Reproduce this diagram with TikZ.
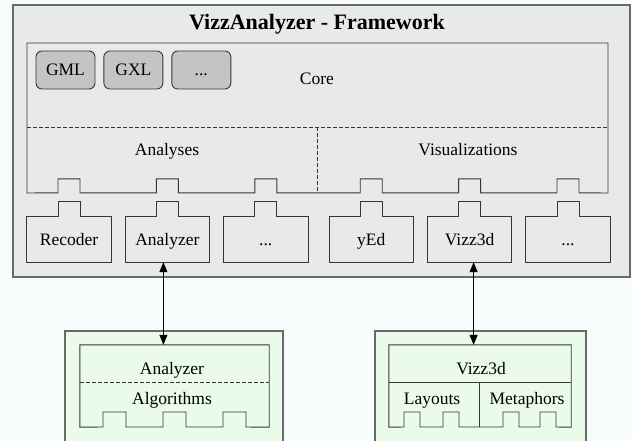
\documentclass[tikz,border=0pt]{standalone}
\usepackage{fontspec}
\setmainfont{Liberation Serif}
\usetikzlibrary{%
    arrows.meta,
    calc,
    positioning
}
\definecolor{bgcol}{HTML}{F7FCFC}
\definecolor{fwgrey}{HTML}{E8E9E9}
\definecolor{fmtgrey}{HTML}{C4C4C4}
\definecolor{plugreen}{HTML}{EAFBEA}
\definecolor{framegrey}{HTML}{6A6A6A}
\definecolor{linegrey}{HTML}{363636}

\tikzset{
    every node/.style={font=\rmfamily\fontsize{17.5pt}{20pt}\selectfont},
    frame/.style={draw=framegrey, line width=1.2pt},
    line/.style={draw=linegrey, line width=0.9pt},
    sepline/.style={dash pattern=on 4pt off 2pt},
    plugin/.style={minimum width=84pt, minimum height=45pt, inner sep=0pt,
                   text height=11.5pt, text depth=0pt},
    fmt/.style={line, fill=fmtgrey, rounded corners=6pt, minimum width=59pt,
                minimum height=38pt, inner sep=0pt, text height=11.5pt, text depth=0pt},
    slot/.style={minimum height=82pt, inner sep=0pt},
    link/.style={{Triangle[width=8pt,length=10pt]}-{Triangle[width=8pt,length=10pt]},
                 draw=black, line width=1pt}
}

\begin{document}
\begin{tikzpicture}[x=1pt, y=-1pt]
    \useasboundingbox[fill=bgcol] (0,0) rectangle (631,441);
    \draw[frame, fill=fwgrey] (13,5) rectangle (630,277);
    \node (title) at (317,30) [anchor=base, font=\rmfamily\fontsize{22pt}{26pt}\selectfont\bfseries]
        {VizzAnalyzer - Framework};

    \node[plugin] (recoder) at (69,239.5) {Recoder};
    \node[plugin, right=14pt of recoder] (analyzer) {Analyzer};
    \node[plugin, right=14pt of analyzer] (moreana) {...};
    \node[plugin, right=21pt of moreana] (yed) {yEd};
    \node[plugin, right=14pt of yed] (vizz) {Vizz3d};
    \node[plugin, right=14pt of vizz] (morevis) {...};

    \foreach \p in {recoder,analyzer,moreana,yed,vizz,morevis}
        \draw[line] (\p.south west) |- ([xshift=-11pt]\p.north) -- ++(0,-15) -- ++(22,0)
            |- (\p.north east) -- (\p.south east) -- cycle;

    \draw[line] (27,193) foreach \p in {recoder,analyzer,moreana,yed,vizz,morevis} {
            -- ([xshift=-11pt,yshift=24pt]\p.north) -- ++(0,-14) -- ++(22,0) -- ++(0,14)
        } -- (608,193) -- (608,43) -- (27,43) -- cycle;
    \draw[line, sepline] (27,127) -- (608,127);
    \draw[line, sepline] (317,127) -- (317,193);

    \node[fmt] (gml) at (65.5,70) {GML};
    \node[fmt, right=8pt of gml] (gxl) {GXL};
    \node[fmt, right=8pt of gxl] (morefmt) {...};
    \node (core) at (317,85) [anchor=base] {Core};
    \node (analyses) at (167,155) [anchor=base] {Analyses};
    \node (visual) at (468,155) [anchor=base] {Visualizations};

    \draw[frame, fill=plugreen] (65,331) rectangle (283,445);
    \draw[frame, fill=plugreen] (375,331) rectangle (586,445);

    \node[slot, minimum width=189pt] (anabox) at (174.5,386) {};
    \draw[line] (anabox.south west) |- (anabox.north east) -- (anabox.south east)
        foreach \x in {234.5,174.5,114.5} {
            -- (\x+11.5,427) -- ++(0,-15) -- ++(-23,0) -- ++(0,15)
        } -- cycle;
    \draw[line, sepline] (80,382) -- (269,382);
    \node (ananame) at (172,374) [anchor=base] {Analyzer};
    \node (algos) at (172,404) [anchor=base] {Algorithms};

    \node[slot, minimum width=182pt] (vizzbox) at (480,386) {};
    \draw[line] (vizzbox.south west) |- (vizzbox.north east) -- (vizzbox.south east)
        foreach \x in {548,511,451,412} {
            -- (\x+8,427) -- ++(0,-15) -- ++(-16,0) -- ++(0,15)
        } -- cycle;
    \draw[line] (389,382) -- (571,382);
    \draw[line] (479,382) -- (479,427);
    \node (vizzname) at (481,374) [anchor=base] {Vizz3d};
    \node (layouts) at (432,404) [anchor=base] {Layouts};
    \node (metaphors) at (527,404) [anchor=base] {Metaphors};

    \draw[link] ([xshift=-4pt]analyzer.south) -- ([xshift=-4pt]analyzer.south |- anabox.north);
    \draw[link] ([xshift=4pt]vizz.south) -- ([xshift=4pt]vizz.south |- vizzbox.north);
\end{tikzpicture}
\end{document}
